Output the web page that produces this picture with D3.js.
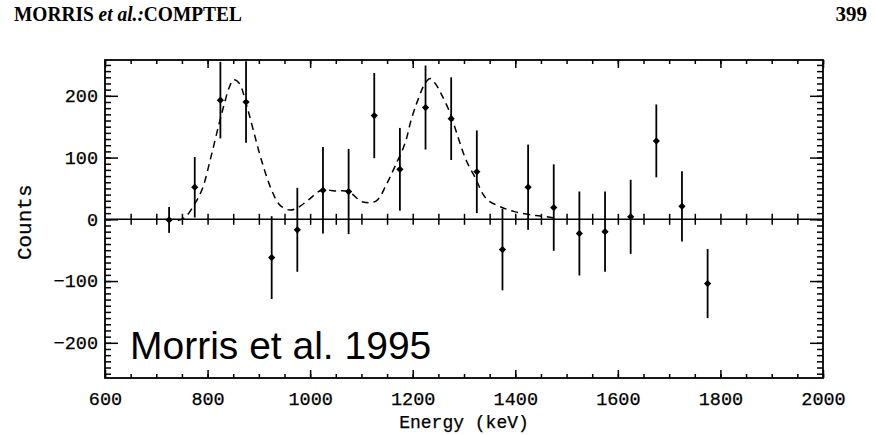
<!DOCTYPE html>
<html>
<head>
<meta charset="utf-8">
<script src="https://cdn.jsdelivr.net/npm/d3@7"></script>
<style>
  html, body { margin: 0; padding: 0; background: #fff; }
  svg { display: block; }
</style>
</head>
<body>
<svg id="chart" width="875" height="435"></svg>
<script>
// ---- data ----
const energies = [725, 775, 825, 875, 925, 975, 1025, 1075, 1125, 1175, 1225, 1275, 1325, 1375, 1425, 1475, 1525, 1575, 1625, 1675, 1725, 1775];
const counts   = [-1, 52, 193, 190, -62, -17, 47, 45, 168, 81, 181, 163, 77, -49, 52, 19, -23, -20, 4, 127, 21, -104];
const errors   = [21, 49, 62, 66, 67, 68, 70, 69, 69, 67, 68, 67, 67, 66, 69, 70, 68, 65, 60, 59, 57, 56];

const modelEnergy = [742, 756, 775, 790, 806, 821, 832, 842, 851, 862, 876, 889, 905, 925, 941, 960, 976, 996, 1022, 1048, 1074, 1103, 1129, 1149, 1165, 1185, 1197, 1210, 1224, 1234, 1244, 1255, 1272, 1288, 1304, 1324, 1336, 1348, 1372, 1400, 1440, 1462, 1482];
const modelCounts = [-2, 3, 25, 50, 99, 150, 185, 213, 226, 220, 185, 145, 96, 47, 23, 15, 19, 31, 47, 46, 45, 28, 30, 57, 85, 123, 161, 193, 220, 228, 220, 204, 174, 134, 96, 64, 42, 30, 20, 12, 6, 4, 1];

const xTickLabels = [600, 800, 1000, 1200, 1400, 1600, 1800, 2000];
const yTickLabels = [-200, -100, 0, 100, 200];
const xMinorStep = 50, yMinorStep = 10;

const headerTitle = "MORRIS";
const headerItalic = "et al.:";
const headerRest = "COMPTEL";
const pageNumber = "399";
const xTitle = "Energy (keV)";
const yTitle = "Counts";
const stamp = "Morris et al. 1995";

// ---- layout ----
const svg = d3.select("#chart");
const L = 105, R = 823, T = 60, B = 378;
const x = d3.scaleLinear().domain([600, 2000]).range([L, R]);
const y = d3.scaleLinear().domain([-257, 258]).range([B, T]);

const xMinor = d3.range(600, 2000 + 1, xMinorStep);
const yMinor = d3.range(-250, 250 + 1, yMinorStep);
const axisFont = "'Liberation Mono', 'Courier New', monospace";
const fmt = d3.format("d");

// header
const hdrG = svg.append("g");
const hdr = hdrG.append("text").attr("x", 0).attr("y", 0)
  .attr("font-family", "'Liberation Serif', 'Times New Roman', serif")
  .attr("font-weight", "bold").attr("font-size", 22);
hdr.append("tspan").text(headerTitle + " ");
hdr.append("tspan").attr("font-style", "italic").text(headerItalic);
hdr.append("tspan").text(headerRest);
const hw = hdr.node().getComputedTextLength();
hdrG.attr("transform", `translate(14,21) scale(${228 / hw},1)`);
svg.append("text").attr("x", 867).attr("y", 21).attr("text-anchor", "end")
  .attr("font-family", "'Liberation Serif', 'Times New Roman', serif")
  .attr("font-weight", "bold").attr("font-size", 21).text(pageNumber);

// axes ticks (inward)
function styleTicks(g) {
  g.select(".domain").remove();
  g.selectAll("line").attr("stroke", "#000").attr("stroke-width", 1.5);
  g.selectAll("text").remove();
}
// bottom
svg.append("g").attr("transform", `translate(0,${B})`)
  .call(d3.axisTop(x).tickValues(xMinor).tickSize(4)).call(styleTicks);
svg.append("g").attr("transform", `translate(0,${B})`)
  .call(d3.axisTop(x).tickValues(xTickLabels).tickSize(8)).call(styleTicks);
// top
svg.append("g").attr("transform", `translate(0,${T})`)
  .call(d3.axisBottom(x).tickValues(xMinor).tickSize(4)).call(styleTicks);
svg.append("g").attr("transform", `translate(0,${T})`)
  .call(d3.axisBottom(x).tickValues(xTickLabels).tickSize(8)).call(styleTicks);
// left
svg.append("g").attr("transform", `translate(${L},0)`)
  .call(d3.axisRight(y).tickValues(yMinor).tickSize(6)).call(styleTicks);
svg.append("g").attr("transform", `translate(${L},0)`)
  .call(d3.axisRight(y).tickValues(yTickLabels).tickSize(13)).call(styleTicks);
// right
svg.append("g").attr("transform", `translate(${R},0)`)
  .call(d3.axisLeft(y).tickValues(yMinor).tickSize(6)).call(styleTicks);
svg.append("g").attr("transform", `translate(${R},0)`)
  .call(d3.axisLeft(y).tickValues(yTickLabels).tickSize(13)).call(styleTicks);

// zero line with crossing ticks
svg.append("line").attr("x1", L).attr("x2", R).attr("y1", y(0)).attr("y2", y(0))
  .attr("stroke", "#000").attr("stroke-width", 1.6);
const zg = svg.append("g").attr("transform", `translate(0,${y(0)})`)
  .call(d3.axisBottom(x).tickValues(xMinor.filter(v => v > 600 && v < 2000)).tickSize(5.5)).call(styleTicks);
zg.selectAll("line").attr("y1", -5.5);

// tick labels
const xl = svg.append("g").attr("transform", `translate(0,${B})`)
  .call(d3.axisBottom(x).tickValues(xTickLabels).tickFormat(fmt).tickSize(0).tickPadding(14));
xl.select(".domain").remove();
xl.selectAll("text").attr("font-family", axisFont).attr("font-size", 18.5)
  .attr("fill", "#000").attr("stroke", "#000").attr("stroke-width", 0.25);
const yl = svg.append("g").attr("transform", `translate(${L},0)`)
  .call(d3.axisLeft(y).tickValues(yTickLabels).tickFormat(fmt).tickSize(0).tickPadding(7));
yl.select(".domain").remove();
yl.selectAll("text").attr("font-family", axisFont).attr("font-size", 18.5)
  .attr("fill", "#000").attr("stroke", "#000").attr("stroke-width", 0.25);

// frame
svg.append("rect").attr("x", L).attr("y", T).attr("width", R - L).attr("height", B - T)
  .attr("fill", "none").attr("stroke", "#000").attr("stroke-width", 1.8);

// axis titles
svg.append("text").attr("x", x(1300)).attr("y", 428).attr("text-anchor", "middle")
  .attr("font-family", axisFont).attr("font-size", 18).attr("fill", "#000")
  .attr("stroke", "#000").attr("stroke-width", 0.25).text(xTitle);
svg.append("text").attr("transform", `translate(31,${y(0) + 3}) rotate(-90)`)
  .attr("text-anchor", "middle")
  .attr("font-family", axisFont).attr("font-size", 21).attr("fill", "#000")
  .attr("stroke", "#000").attr("stroke-width", 0.25).text(yTitle);

// clip
svg.append("clipPath").attr("id", "plotclip").append("rect")
  .attr("x", L).attr("y", T).attr("width", R - L).attr("height", B - T);
const plot = svg.append("g").attr("clip-path", "url(#plotclip)");

// model curve
const model = modelEnergy.map((e, i) => [e, modelCounts[i]]);
plot.append("path").datum(model)
  .attr("d", d3.line().x(d => x(d[0])).y(d => y(d[1])).curve(d3.curveCatmullRom))
  .attr("fill", "none").attr("stroke", "#000").attr("stroke-width", 1.5)
  .attr("stroke-dasharray", "7,5");

// error bars
const pts = energies.map((e, i) => ({ e, c: counts[i], s: errors[i] }));
plot.selectAll(".err").data(pts).join("line")
  .attr("x1", d => x(d.e)).attr("x2", d => x(d.e))
  .attr("y1", d => y(d.c + d.s)).attr("y2", d => y(d.c - d.s))
  .attr("stroke", "#000").attr("stroke-width", 1.8);
// diamond markers
plot.selectAll(".pt").data(pts).join("path")
  .attr("transform", d => `translate(${x(d.e)},${y(d.c)}) rotate(45)`)
  .attr("d", d3.symbol().type(d3.symbolSquare).size(26))
  .attr("fill", "#000");

// stamp
svg.append("text").attr("x", 130).attr("y", 359)
  .attr("font-family", "'Liberation Sans', Arial, Helvetica, sans-serif")
  .attr("font-size", 39).attr("fill", "#000").text(stamp);
</script>
</body>
</html>
